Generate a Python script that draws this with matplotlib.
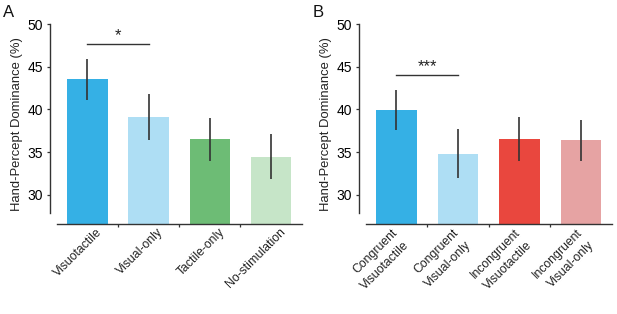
import matplotlib
matplotlib.use("Agg")
import matplotlib.pyplot as plt
import matplotlib.transforms as mtransforms
import numpy as np

plt.rcParams['font.family'] = ['Liberation Sans', 'DejaVu Sans']

# ---- data ----
labels_a = ["Visuotactile", "Visual-only", "Tactile-only", "No-stimulation"]
means_a = [43.55, 39.08, 36.5, 34.46]
errs_a = [2.4, 2.7, 2.55, 2.65]
colors_a = ["#35b0e5", "#aedef4", "#6dbc75", "#c6e5c8"]
sig_a = (0, 1, 47.7, "*")

labels_b = ["Congruent\nVisuotactile", "Congruent\nVisual-only",
            "Incongruent\nVisuotactile", "Incongruent\nVisual-only"]
means_b = [39.9, 34.82, 36.5, 36.38]
errs_b = [2.35, 2.85, 2.6, 2.4]
colors_b = ["#35b0e5", "#aedef4", "#e9473e", "#e6a3a3"]
sig_b = (0, 1, 44.0, "***")

yticks = [30, 35, 40, 45, 50]
ylabel = "Hand-Percept Dominance (%)"

fig = plt.figure(figsize=(6.17, 3.14), dpi=100)
ax_a = fig.add_axes([0.0919, 0.2866, 0.397, 0.636])
ax_b = fig.add_axes([0.5927, 0.2866, 0.3987, 0.636])

dark = "#333333"


def draw(ax, labels, means, errs, colors, sig, letter, dx_px, pad, lx):
    x = np.arange(len(labels))
    ax.bar(x, means, width=0.66, color=colors, edgecolor='none', zorder=1)
    ax.vlines(x, np.array(means) - np.array(errs), np.array(means) + np.array(errs),
              color=dark, lw=1.2, zorder=2)
    ax.set_xlim(-0.5, len(labels) - 0.5)
    ax.set_ylim(26.55, 50)
    ax.set_yticks(yticks)
    ax.set_yticklabels([str(t) for t in yticks], fontsize=8.8, color="#222222")
    ax.spines['top'].set_visible(False)
    ax.spines['right'].set_visible(False)
    ax.spines['left'].set_position(('outward', 4.8))
    ax.spines['left'].set_bounds(27.8, 50)
    for s in ('left', 'bottom'):
        ax.spines[s].set_color(dark)
        ax.spines[s].set_linewidth(1.0)
    ax.tick_params(axis='y', length=2.4, width=0.9, color=dark, pad=2.8)
    ax.set_xticks(x)
    ax.set_xticks(x[:-1] + 0.5, minor=True)
    ax.tick_params(axis='x', which='major', length=0, pad=pad)
    ax.tick_params(axis='x', which='minor', length=2.5, width=0.9, color=dark)
    ax.set_xticklabels(labels, fontsize=8.8, color="#222222")
    offset = mtransforms.ScaledTranslation(dx_px / 100.0, 0, fig.dpi_scale_trans)
    for lab in ax.get_xticklabels():
        lab.set_rotation(45)
        lab.set_ha('right')
        lab.set_va('center')
        lab.set_rotation_mode('anchor')
        lab.set_multialignment('right')
        lab.set_linespacing(1.5)
        lab.set_transform(lab.get_transform() + offset)
    ax.set_ylabel(ylabel, fontsize=9.4, color="#222222", labelpad=3)
    i0, i1, yy, txt = sig
    ax.plot([i0, i1], [yy, yy], color=dark, lw=1.0)
    ax.text((i0 + i1) / 2, yy + 0.1, txt, ha='center', va='bottom', fontsize=12,
            color="#222222")
    ax.text(lx, 1.022, letter, transform=ax.transAxes, fontsize=12, ha='left',
            va='bottom', color="#111111")


draw(ax_a, labels_a, means_a, errs_a, colors_a, sig_a, "A", 13, 4.4, -0.218)
draw(ax_b, labels_b, means_b, errs_b, colors_b, sig_b, "B", 5, 9.5, -0.214)

fig.savefig("out.png", dpi=100)
